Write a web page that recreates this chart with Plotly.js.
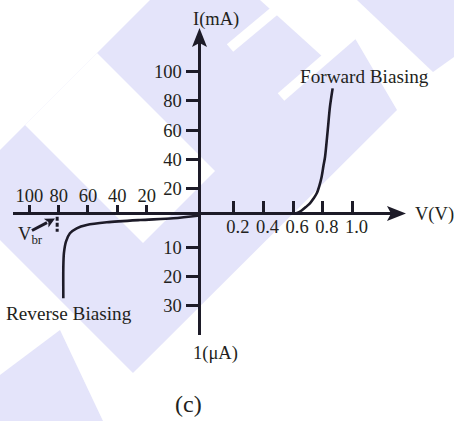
<!DOCTYPE html>
<html>
<head>
<meta charset="utf-8">
<script src="https://cdn.plot.ly/plotly-3.0.1.min.js"></script>
<style>html,body{margin:0;padding:0;background:#fff;}#chart{width:454px;height:421px;}</style>
</head>
<body>
<div id="chart"></div>
<script>
// ---- data ----
// forward bias branch: voltage (V) and current (mA)
const forwardV = [0.599, 0.626, 0.657, 0.686, 0.713, 0.737, 0.759, 0.776, 0.792, 0.804, 0.815, 0.833, 0.848, 0.866];
const forwardI = [2.74, 3.1, 4.8, 7.2, 9.7, 13.0, 16.6, 21.6, 28.0, 35.3, 41.7, 60.0, 76.0, 88.6];
// reverse bias branch: reverse voltage (V) and reverse current (µA)
const reverseV = [-16.0, 1.8, 24.5, 47.2, 60.9, 67.7, 72.3, 75.0, 76.4, 76.8, 76.8];
const reverseI = [-1.1, -0.14, 0.45, 1.24, 2.17, 3.31, 5.03, 7.93, 11.9, 16.6, 27.4];
// breakdown voltage marker
const vbr = 81;
const vbrSpan = [-0.7, 4.5];
// tick labels
const fwdTicks = [0.2, 0.4, 0.6, 0.8, 1.0];
const fwdTickText = ['0.2', '0.4', '0.6', '0.8', '1.0'];
const revTicks = [20, 40, 60, 80, 100];
const mATicks = [20, 40, 60, 80, 100];
const uATicks = [10, 20, 30];

// ---- layout helpers (pixel -> paper) ----
const W = 454, H = 421;
const PX = p => p / W;
const PY = p => 1 - p / H;
const INK = '#1d1b28';
const TXT = '#231f20';
const LAV = '#e4e4fa';
const FONT = 'Liberation Serif, Times New Roman, serif';

function pathOf(pts) {
  return pts.map((p, i) => (i ? 'L' : 'M') + PX(p[0]).toFixed(5) + ',' + PY(p[1]).toFixed(5)).join(' ') + ' Z';
}
function poly(pts, fill, layer) {
  return {type: 'path', xref: 'paper', yref: 'paper', path: pathOf(pts), fillcolor: fill, line: {width: 0}, layer: layer || 'below'};
}
function seg(a, b, color, w, layer) {
  return {type: 'line', xref: 'paper', yref: 'paper', x0: PX(a[0]), y0: PY(a[1]), x1: PX(b[0]), y1: PY(b[1]),
          line: {color: color, width: w}, layer: layer || 'above'};
}
// small arrow (shaft + head) between two pixel points
function arrow(tail, tip, w, len, half) {
  const dx = tip[0] - tail[0], dy = tip[1] - tail[1], L = Math.hypot(dx, dy);
  const ux = dx / L, uy = dy / L, nx = -uy, ny = ux;
  const bx = tip[0] - len * ux, by = tip[1] - len * uy;
  return [
    seg(tail, [bx + ux, by + uy], INK, w),
    poly([tip, [bx + half * nx, by + half * ny], [bx + ux * 2.5, by + uy * 2.5], [bx - half * nx, by - half * ny]], INK, 'above')
  ];
}

const ox = 199.5, oy = 213.5;

const shapes = [
  // watermark
  poly([[0,150],[150,0],[260,0],[324,58],[353,35],[397,110],[133,373],[0,240]], LAV),
  poly([[25,125],[97,53],[215,171],[143,243]], '#ffffff'),
  poly([[357,0],[454,0],[454,57],[433,72]], LAV),
  poly([[60,330],[0,375],[0,421],[103,421]], LAV),
  seg([230,48],[278,8], '#ffffff', 10, 'below'),
  seg([281,97],[355,33], '#ffffff', 10, 'below'),
  // axes lines
  seg([13, oy], [398, oy], INK, 3),
  seg([ox, 335], [ox, 36], INK, 3),
  // arrowheads
  poly([[406, oy], [387, oy - 7.5], [391, oy], [387, oy + 7.5]], INK, 'above'),
  poly([[ox, 28], [ox - 7.5, 47], [ox, 43], [ox + 7.5, 47]], INK, 'above')
].concat(arrow([32, 230.5], [55, 218.5], 3, 10, 5));

const tickFont = {family: FONT, size: 18.5, color: TXT};
const axisCommon = {showgrid: false, zeroline: false, showline: false, fixedrange: true,
                    tickcolor: INK, tickwidth: 3, tickfont: tickFont, anchor: 'free', tickmode: 'array'};

const layout = {
  width: W, height: H,
  margin: {l: 0, r: 0, t: 0, b: 0},
  paper_bgcolor: '#ffffff', plot_bgcolor: 'rgba(0,0,0,0)',
  showlegend: false,
  xaxis: Object.assign({}, axisCommon, {domain: [PX(ox), PX(398)], range: [-0.0317, 1.3068],
          position: PY(oy), side: 'bottom', ticks: 'inside', ticklen: 13, ticklabelshift: 4,
          tickvals: fwdTicks, ticktext: fwdTickText}),
  xaxis2: Object.assign({}, axisCommon, {domain: [PX(13), PX(ox)], range: [111.1, -16.0],
          position: PY(oy), side: 'top', ticks: 'outside', ticklen: 9, ticklabelstandoff: -5,
          tickvals: revTicks, ticktext: revTicks.map(String)}),
  yaxis: Object.assign({}, axisCommon, {domain: [PY(oy), PY(36)], range: [2.74, 124.5],
          position: PX(ox), side: 'left', ticks: 'outside', ticklen: 14,
          tickvals: mATicks, ticktext: mATicks.map(String)}),
  yaxis2: Object.assign({}, axisCommon, {domain: [PY(335), PY(oy)], range: [40.1, -1.79],
          position: PX(ox), side: 'left', ticks: 'outside', ticklen: 14,
          tickvals: uATicks, ticktext: uATicks.map(String)}),
  shapes: shapes,
  annotations: [
    {text: 'I(mA)', x: PX(215.5), y: PY(19)},
    {text: 'V(V)', x: PX(434), y: PY(214)},
    {text: 'Forward Biasing', x: PX(364.5), y: PY(77), font: {family: FONT, size: 19.2, color: TXT}},
    {text: 'Reverse Biasing', x: PX(69), y: PY(313.5), font: {family: FONT, size: 19.2, color: TXT}},
    {text: '1(μA)', x: PX(215), y: PY(353.5)},
    {text: '(c)', x: PX(188.5), y: PY(404), font: {family: FONT, size: 24, color: TXT}},
    {text: 'V<sub>br</sub>', x: PX(30.5), y: PY(235)}
  ].map(a => Object.assign({xref: 'paper', yref: 'paper', showarrow: false, xanchor: 'center', yanchor: 'middle',
                            font: {family: FONT, size: 18.5, color: TXT}}, a))
};

const traces = [
  {x: forwardV, y: forwardI, xaxis: 'x', yaxis: 'y', mode: 'lines',
   line: {color: INK, width: 2.6, shape: 'spline', smoothing: 0.8}, hoverinfo: 'skip', cliponaxis: false},
  {x: reverseV, y: reverseI, xaxis: 'x2', yaxis: 'y2', mode: 'lines',
   line: {color: INK, width: 2.6, shape: 'spline', smoothing: 0.8}, hoverinfo: 'skip', cliponaxis: false},
  {x: [vbr, vbr], y: vbrSpan, xaxis: 'x2', yaxis: 'y2', mode: 'lines',
   line: {color: INK, width: 3, dash: '4px,2px'}, hoverinfo: 'skip', cliponaxis: false}
];

Plotly.newPlot('chart', traces, layout, {staticPlot: true, displayModeBar: false});
</script>
</body>
</html>
